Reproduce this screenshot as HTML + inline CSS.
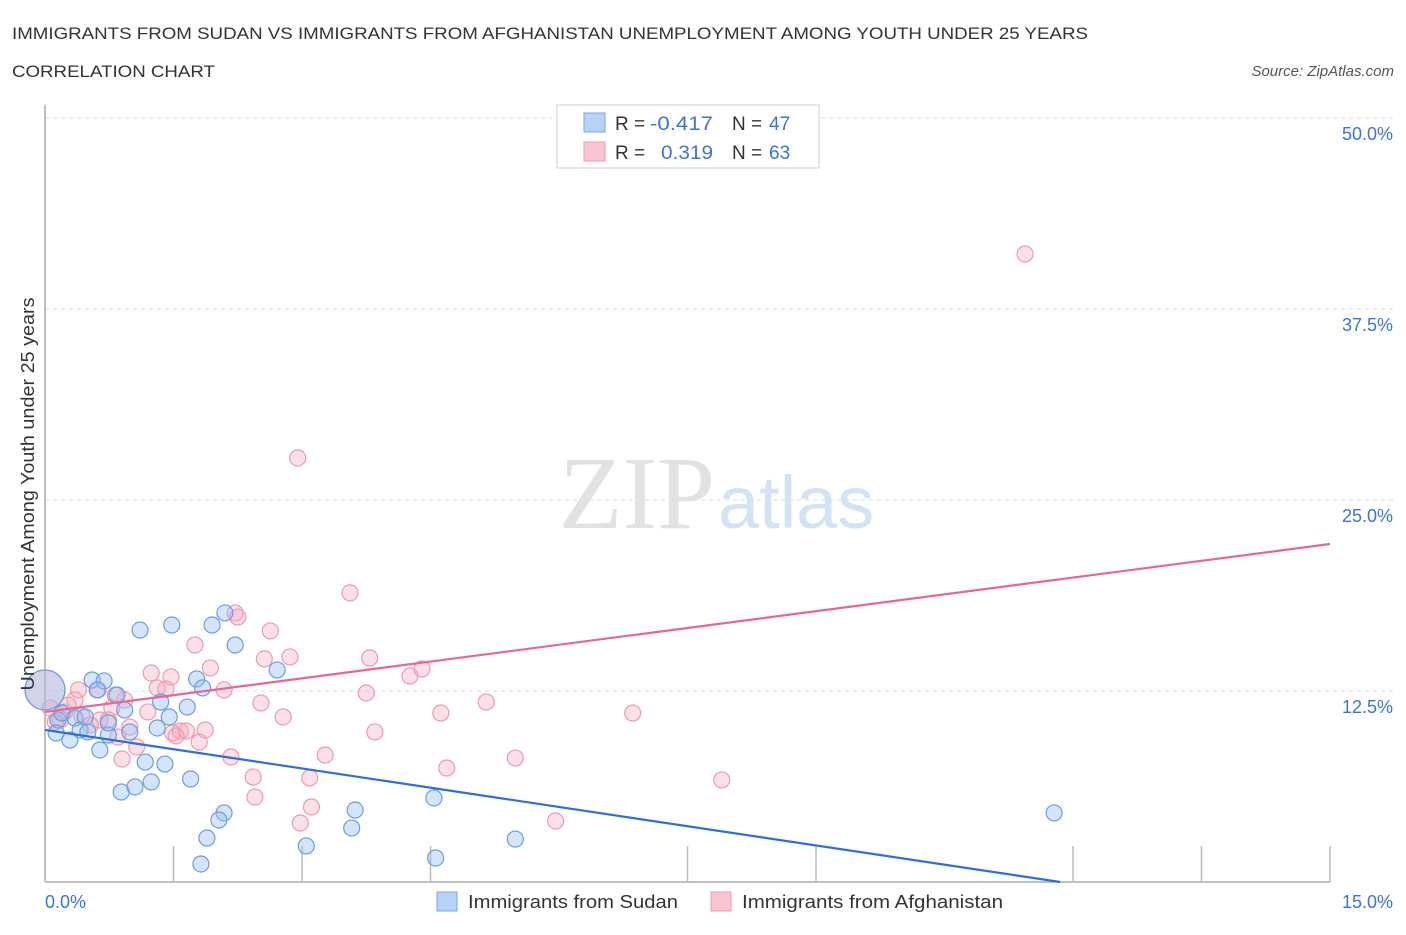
<!DOCTYPE html>
<html><head><meta charset="utf-8"><style>
body{margin:0;background:#fff;font-family:"Liberation Sans",sans-serif;}
svg text{font-family:"Liberation Sans",sans-serif;}
</style></head><body>
<svg width="1406" height="930">
<text x="12" y="39" font-size="17" fill="#333" textLength="1076" lengthAdjust="spacingAndGlyphs">IMMIGRANTS FROM SUDAN VS IMMIGRANTS FROM AFGHANISTAN UNEMPLOYMENT AMONG YOUTH UNDER 25 YEARS</text>
<text x="12" y="77" font-size="17" fill="#333" textLength="203" lengthAdjust="spacingAndGlyphs">CORRELATION CHART</text>
<text x="1394" y="76" font-size="15" fill="#555" font-style="italic" text-anchor="end">Source: ZipAtlas.com</text>
<g id="grid"></g>
<text x="715" y="528" font-size="104" fill="#e2e2e2" text-anchor="end" style="font-family:'Liberation Serif',serif">ZIP</text>
<text x="718" y="528" font-size="74" fill="#d3e3f5">atlas</text>
<g id="pts"></g>
<g id="lines"></g>
<text transform="translate(34,494) rotate(-90)" font-size="18" fill="#333" text-anchor="middle" textLength="393" lengthAdjust="spacingAndGlyphs">Unemployment Among Youth under 25 years</text>
<text x="45" y="908" font-size="18" fill="#3a74d4">0.0%</text>
<text x="1393" y="908" font-size="18" fill="#3a74d4" text-anchor="end">15.0%</text>
<g>
<rect x="557" y="105" width="262" height="63" fill="#fff" stroke="#ccc"/>
<rect x="584" y="113" width="21" height="19" fill="#b8d2f5" stroke="#7aa6e6"/>
<rect x="584" y="142" width="21" height="19" fill="#f9c5d3" stroke="#eb9ab0"/>
<text x="615" y="130" font-size="19" fill="#333">R =</text>
<text x="650" y="130" font-size="19" fill="#3a74d4" textLength="63" lengthAdjust="spacingAndGlyphs">-0.417</text>
<text x="732" y="130" font-size="19" fill="#333">N =</text>
<text x="769" y="130" font-size="19" fill="#3a74d4">47</text>
<text x="615" y="159" font-size="19" fill="#333">R =</text>
<text x="661" y="159" font-size="19" fill="#3a74d4" textLength="52" lengthAdjust="spacingAndGlyphs">0.319</text>
<text x="732" y="159" font-size="19" fill="#333">N =</text>
<text x="769" y="159" font-size="19" fill="#3a74d4">63</text>
</g>
<g>
<rect x="437" y="892" width="20" height="19" fill="#b8d2f5" stroke="#7aa6e6"/>
<text x="468" y="908" font-size="18" fill="#333" textLength="210" lengthAdjust="spacingAndGlyphs">Immigrants from Sudan</text>
<rect x="711" y="892" width="20" height="19" fill="#f9c5d3" stroke="#eb9ab0"/>
<text x="742" y="908" font-size="18" fill="#333" textLength="261" lengthAdjust="spacingAndGlyphs">Immigrants from Afghanistan</text>
</g>
</svg>
<script>
const yTicks=[12.5,25,37.5,50];
const yTickLabels=["12.5%","25.0%","37.5%","50.0%"];
const xTicks=[0,1.5,3,4.5,7.5,9,12,13.5,15];
const sudanX=[1.11,1.48,1.95,2.10,2.22,2.71,0.55,0.69,0.61,1.77,1.84,0.84,0.93,1.35,1.66,1.45,0.15,0.20,0.35,0.41,0.50,0.13,0.29,0.64,0.74,0.99,1.31,1.17,1.40,0.89,1.05,1.24,1.70,2.09,2.03,1.89,1.82,3.05,3.62,3.58,4.54,4.56,5.49,11.78,0,0.47,0.74];
const sudanY=[16.49,16.82,16.82,17.61,15.51,13.88,13.22,13.16,12.57,13.29,12.70,12.24,11.26,11.78,11.45,10.80,10.60,11.06,10.73,9.95,9.82,9.75,9.29,8.64,9.62,9.82,10.08,7.85,7.72,5.89,6.22,6.55,6.74,4.52,4.06,2.88,1.18,2.36,4.71,3.53,5.50,1.57,2.81,4.52,12.57,10.80,10.41];
const sudanBig=[44];
const afgX=[2.95,11.44,3.56,2.22,2.25,2.63,1.75,2.56,2.86,1.93,1.24,1.47,3.79,4.26,4.40,1.31,1.41,2.09,3.75,2.52,0.93,0.62,0.35,5.15,4.62,6.86,2.78,1.20,0.78,0.64,0.43,0.23,0.18,0.12,0.06,0.99,1.49,1.58,1.65,1.80,1.53,3.85,1.07,0.90,2.17,3.27,5.49,4.69,2.43,3.09,7.90,2.45,3.11,2.98,5.96,0.74,0.53,0,0.85,0.27,0.39,0.82,1.87];
const afgY=[27.75,41.10,18.92,17.61,17.34,16.43,15.51,14.60,14.73,14.01,13.68,13.42,14.66,13.48,13.94,12.70,12.63,12.57,12.37,11.72,11.91,12.57,11.91,11.78,11.06,11.06,10.80,11.13,11.39,10.60,10.86,11.13,10.60,10.47,11.39,10.14,9.75,9.88,9.88,9.16,9.56,9.82,8.84,8.05,8.18,8.31,8.12,7.46,6.87,6.81,6.68,5.56,4.91,3.86,3.99,10.60,10.28,12.57,9.49,11.58,12.57,12.24,9.95];
const afgBig=[57];
const sudanTrend=[0,9.95,11.85,0];
const afgTrend=[0,11.13,15,22.12];
const NS="http://www.w3.org/2000/svg";
const sx=v=>45+v/15*1285, sy=v=>882-v*15.28;
function mk(t,a,p){const e=document.createElementNS(NS,t);for(const k in a)e.setAttribute(k,a[k]);p.appendChild(e);return e;}
const grid=document.getElementById('grid');
yTicks.forEach((t,i)=>{
 const l=mk('line',{x1:45,x2:1394,y1:sy(t),y2:sy(t),stroke:'#ddd','stroke-dasharray':'4,4'},grid);
 
 
 const tx=mk('text',{x:1393,y:sy(t)+22,'font-size':18,fill:'#3a74d4','text-anchor':'end'},grid);
 tx.textContent=yTickLabels[i];
 
 
});
const ax=mk('line',{x1:45,x2:45,y1:105,y2:882,stroke:'#aaa','stroke-width':1.5},grid);


const bx=mk('line',{x1:45,x2:1330,y1:882,y2:882,stroke:'#aaa','stroke-width':1.5},grid);


xTicks.forEach(t=>{
 const l=mk('line',{x1:sx(t),x2:sx(t),y1:846,y2:882,stroke:'#bbb','stroke-width':1.5},grid);
 
 
});
const pts=document.getElementById('pts');
function draw(X,Y,big,fill,stroke,name){
 X.forEach((x,i)=>{
  const c=mk('circle',{cx:sx(x),cy:sy(Y[i]),r:big.includes(i)?20:8,fill:fill,stroke:stroke,'stroke-width':1.2},pts);
  
  
 });
}
draw(afgX,afgY,afgBig,'rgba(245,165,190,0.35)','#eb9ab0','point-afghanistan');
draw(sudanX,sudanY,sudanBig,'rgba(150,190,240,0.4)','#6d9be0','point-sudan');
const lines=document.getElementById('lines');
const l1=mk('line',{x1:sx(sudanTrend[0]),y1:sy(sudanTrend[1]),x2:sx(sudanTrend[2]),y2:sy(sudanTrend[3]),stroke:'#2d6fd6','stroke-width':2.2},lines);


const l2=mk('line',{x1:sx(afgTrend[0]),y1:sy(afgTrend[1]),x2:sx(afgTrend[2]),y2:sy(afgTrend[3]),stroke:'#e76695','stroke-width':2.2},lines);


</script>
</body></html>
